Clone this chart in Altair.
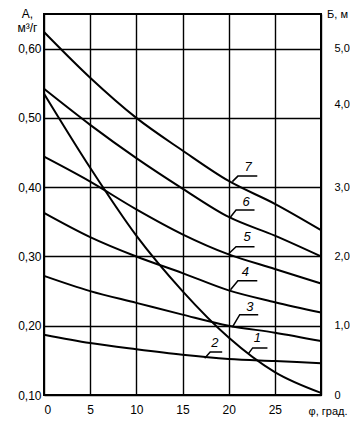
import altair as alt
import pandas as pd

# angle φ, degrees
phi = [0, 5, 10, 15, 20, 25, 30]

# A, m3/g (left scale) for curves 1..7
curve_1 = [0.535, 0.428, 0.330, 0.250, 0.183, 0.133, 0.103]
curve_2 = [0.187, 0.175, 0.166, 0.158, 0.152, 0.149, 0.146]
curve_3 = [0.272, 0.250, 0.233, 0.216, 0.200, 0.190, 0.178]
curve_4 = [0.363, 0.328, 0.300, 0.276, 0.251, 0.234, 0.219]
curve_5 = [0.444, 0.408, 0.368, 0.332, 0.303, 0.282, 0.261]
curve_6 = [0.542, 0.490, 0.442, 0.398, 0.357, 0.330, 0.300]
curve_7 = [0.624, 0.558, 0.500, 0.453, 0.409, 0.376, 0.338]
curve_ids = ["1", "2", "3", "4", "5", "6", "7"]
curves = [curve_1, curve_2, curve_3, curve_4, curve_5, curve_6, curve_7]

# curve labels and leader lines (curve point -> elbow -> end)
label_text = ["1", "2", "3", "4", "5", "6", "7"]
label_x = [23.1, 18.5, 22.3, 21.8, 22.0, 21.9, 22.1]
label_y = [0.182, 0.175, 0.227, 0.278, 0.328, 0.379, 0.429]
lead_x0 = [22.1, 17.4, 20.4, 20.2, 20.0, 20.2, 20.4]
lead_y0 = [0.159, 0.153, 0.198, 0.252, 0.304, 0.357, 0.408]
lead_x1 = [22.6, 18.0, 21.2, 21.0, 20.8, 20.8, 21.0]
lead_y1 = [0.168, 0.162, 0.216, 0.265, 0.314, 0.367, 0.416]
lead_x2 = [24.2, 19.3, 23.2, 23.1, 22.8, 22.8, 23.1]

# axis ticks
x_ticks = [0, 5, 10, 15, 20, 25, 30]
a_ticks = [0.10, 0.15, 0.20, 0.25, 0.30, 0.35, 0.40, 0.45, 0.50, 0.55, 0.60, 0.65]
b_ticks = [0, 1, 2, 3, 4, 5]

FONT = "Liberation Sans"

rows = []
for cid, vals in zip(curve_ids, curves):
    for x, a in zip(phi, vals):
        rows.append({"curve": cid, "phi": x, "A": a})
df = pd.DataFrame(rows)

lead_rows = []
for i, t in enumerate(label_text):
    lead_rows.append({"lab": t, "o": 0, "phi": lead_x0[i], "A": lead_y0[i]})
    lead_rows.append({"lab": t, "o": 1, "phi": lead_x1[i], "A": lead_y1[i]})
    lead_rows.append({"lab": t, "o": 2, "phi": lead_x2[i], "A": lead_y1[i]})
df_lead = pd.DataFrame(lead_rows)

df_lab = pd.DataFrame({"lab": label_text, "phi": label_x, "A": label_y})

xscale = alt.Scale(domain=[0, 30], nice=False)
yscale = alt.Scale(domain=[0.10, 0.65], nice=False, zero=False)

x_axis = alt.Axis(
    values=x_ticks, grid=True, gridColor="black", gridWidth=1.4, gridOpacity=1,
    ticks=False, domain=False, labelFont=FONT, labelFontSize=12, labelColor="black",
    labelPadding=9, labelExpr="datum.value == 30 ? '' : datum.label",
    title="φ, град.", titleFont=FONT, titleFontSize=11, titleFontWeight="normal",
    titleColor="black", titleX=264, titleY=16, titleAlign="left", titleBaseline="middle",
)
y_axis = alt.Axis(
    values=a_ticks, grid=True, gridColor="black", gridWidth=1.4, gridOpacity=1,
    ticks=False, domain=False, labelFont=FONT, labelFontSize=12, labelColor="black",
    labelPadding=3,
    labelExpr="(round(datum.value*100) % 10 == 0 && datum.value < 0.62) ? replace(format(datum.value, '.2f'), '.', ',') : ''",
    title=["А,", "м³/г"], titleFont=FONT, titleFontSize=12, titleFontWeight="normal",
    titleColor="black", titleAngle=0, titleX=-17, titleY=-6, titleAlign="center",
    titleBaseline="top", titleLineHeight=14,
)

lines = alt.Chart(df).mark_line(color="black", strokeWidth=2, interpolate="monotone").encode(
    x=alt.X("phi:Q", scale=xscale, axis=x_axis),
    y=alt.Y("A:Q", scale=yscale, axis=y_axis),
    detail="curve:N",
)

leaders = alt.Chart(df_lead).mark_line(color="black", strokeWidth=1.5).encode(
    x=alt.X("phi:Q", scale=xscale),
    y=alt.Y("A:Q", scale=yscale),
    detail="lab:N",
    order="o:Q",
)

labels = alt.Chart(df_lab).mark_text(
    font=FONT, fontSize=13, fontStyle="italic", color="black", align="center", baseline="middle"
).encode(
    x=alt.X("phi:Q", scale=xscale),
    y=alt.Y("A:Q", scale=yscale),
    text="lab:N",
)

left = alt.layer(lines, leaders, labels)

right = alt.Chart(pd.DataFrame({"b": [0, 5.5]})).mark_point(opacity=0).encode(
    y=alt.Y("b:Q", scale=alt.Scale(domain=[0, 5.5], nice=False, zero=False),
            axis=alt.Axis(orient="right", values=b_ticks, grid=False, ticks=False, domain=False,
                          labelFont=FONT, labelFontSize=11, labelColor="black", labelPadding=13,
                          labelOffset={"condition": {"test": "datum.value == 4", "value": -13}, "value": 0},
                          labelExpr="datum.value == 0 ? '0' : replace(format(datum.value, '.1f'), '.', ',')",
                          title="Б, м", titleFont=FONT, titleFontSize=11, titleFontWeight="normal",
                          titleColor="black", titleAngle=0, titleX=16, titleY=-6,
                          titleAlign="center", titleBaseline="top")),
)

chart = alt.layer(left, right).resolve_scale(y="independent").properties(
    width=277, height=381,
    autosize=alt.AutoSizeParams(type="none"),
    padding={"left": 36, "top": 6, "right": 29, "bottom": 23},
    background="white",
).configure_view(stroke="black", strokeWidth=2)

chart.save("out.html", embed_options={"renderer": "svg", "actions": False})
